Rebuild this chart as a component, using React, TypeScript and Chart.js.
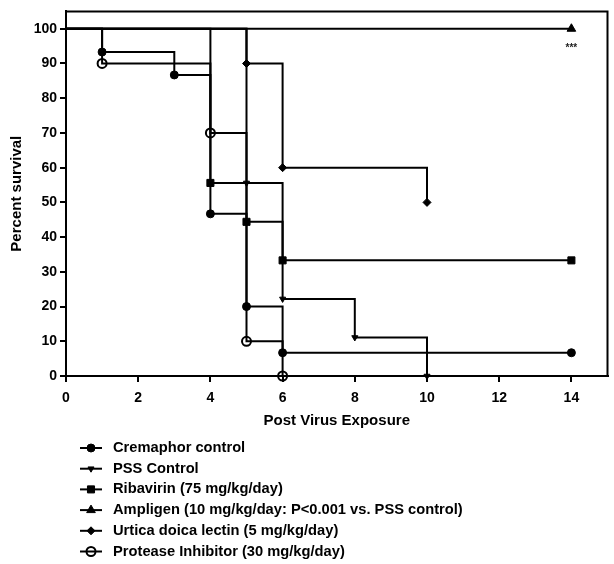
import React, { useEffect, useRef } from "react";
import { Chart, registerables } from "chart.js";

Chart.register(...registerables);

// ---- data ----
const SERIES_LABELS = [
  "Cremaphor control",
  "PSS Control",
  "Ribavirin (75 mg/kg/day)",
  "Ampligen (10 mg/kg/day: P<0.001 vs. PSS control)",
  "Urtica doica lectin (5 mg/kg/day)",
  "Protease Inhibitor (30 mg/kg/day)",
];

const CREMAPHOR_DAYS = [0, 1, 3, 4, 5, 6, 14];
const CREMAPHOR_SURV = [100, 93.3, 86.7, 46.7, 20, 6.7, 6.7];

const PSS_DAYS = [0, 5, 6, 8, 10];
const PSS_SURV = [100, 55.6, 22.2, 11.1, 0];

const RIBAVIRIN_DAYS = [0, 4, 5, 6, 14];
const RIBAVIRIN_SURV = [100, 55.6, 44.4, 33.3, 33.3];

const AMPLIGEN_DAYS = [0, 14];
const AMPLIGEN_SURV = [100, 100];

const URTICA_DAYS = [0, 5, 6, 10];
const URTICA_SURV = [100, 90, 60, 50];

const PROTEASE_DAYS = [0, 1, 4, 5, 6];
const PROTEASE_SURV = [100, 90, 70, 10, 0];

const X_TICKS = [0, 2, 4, 6, 8, 10, 12, 14];
const Y_TICKS = [0, 10, 20, 30, 40, 50, 60, 70, 80, 90, 100];

const ANNOTATION_X = 14;
const ANNOTATION_Y = 94.5;
const ANNOTATION_TEXT = "***";

const X_TITLE = "Post Virus Exposure";
const Y_TITLE = "Percent survival";

// ---- styles ----
const FONT = "'Liberation Sans', Arial, Helvetica, sans-serif";

type Marker = { style: string; rotation: number; radius: number; filled: boolean };
const MARKERS: Marker[] = [
  { style: "circle", rotation: 0, radius: 4, filled: true },
  { style: "triangle", rotation: 180, radius: 3.5, filled: true },
  { style: "rect", rotation: 0, radius: 5, filled: true },
  { style: "triangle", rotation: 0, radius: 5, filled: true },
  { style: "rectRot", rotation: 0, radius: 4, filled: true },
  { style: "circle", rotation: 0, radius: 4.5, filled: false },
];

function drawMarker(ctx: CanvasRenderingContext2D, m: Marker, x: number, y: number) {
  ctx.save();
  ctx.fillStyle = "#000";
  ctx.strokeStyle = "#000";
  ctx.lineWidth = m.filled ? 1 : 2;
  ctx.beginPath();
  const r = m.radius;
  if (m.style === "circle") {
    ctx.arc(x, y, r, 0, Math.PI * 2);
  } else if (m.style === "rect") {
    const s = r * Math.SQRT1_2;
    ctx.rect(x - s, y - s, 2 * s, 2 * s);
  } else if (m.style === "rectRot") {
    ctx.moveTo(x, y - r);
    ctx.lineTo(x + r, y);
    ctx.lineTo(x, y + r);
    ctx.lineTo(x - r, y);
    ctx.closePath();
  } else if (m.style === "triangle") {
    const rot = (m.rotation * Math.PI) / 180;
    for (let k = 0; k < 3; k++) {
      const a = rot + (k * 2 * Math.PI) / 3;
      const px = x + Math.sin(a) * r;
      const py = y - Math.cos(a) * r;
      if (k === 0) ctx.moveTo(px, py);
      else ctx.lineTo(px, py);
    }
    ctx.closePath();
  }
  if (m.filled) ctx.fill();
  ctx.stroke();
  ctx.restore();
}

const framePlugin = {
  id: "frame",
  afterDatasetsDraw(chart: any) {
    const { ctx, chartArea } = chart;
    ctx.save();
    ctx.strokeStyle = "#000";
    ctx.lineWidth = 2;
    ctx.beginPath();
    ctx.moveTo(chartArea.left, chartArea.top);
    ctx.lineTo(chartArea.right, chartArea.top);
    ctx.lineTo(chartArea.right, chartArea.bottom);
    ctx.stroke();
    // annotation
    const xs = chart.scales.x;
    const ys = chart.scales.y;
    ctx.fillStyle = "#222";
    ctx.font = `bold 10px ${FONT}`;
    ctx.textAlign = "center";
    ctx.textBaseline = "middle";
    ctx.fillText(ANNOTATION_TEXT, xs.getPixelForValue(ANNOTATION_X), ys.getPixelForValue(ANNOTATION_Y));
    ctx.restore();
  },
};

const legendPlugin = {
  id: "listLegend",
  afterDraw(chart: any) {
    const { ctx } = chart;
    ctx.save();
    ctx.font = `bold 14.7px ${FONT}`;
    ctx.fillStyle = "#000";
    ctx.textAlign = "left";
    ctx.textBaseline = "middle";
    SERIES_LABELS.forEach((label, i) => {
      const y = 448 + i * 20.7;
      ctx.strokeStyle = "#000";
      ctx.lineWidth = 2;
      ctx.beginPath();
      ctx.moveTo(80, y);
      ctx.lineTo(102, y);
      ctx.stroke();
      drawMarker(ctx, MARKERS[i], 91, y);
      ctx.fillStyle = "#000";
      ctx.fillText(label, 113, y);
    });
    ctx.restore();
  },
};

function toPoints(xs: number[], ys: number[]) {
  return xs.map((x, i) => ({ x, y: ys[i] }));
}

export default function App() {
  const ref = useRef<HTMLCanvasElement | null>(null);

  useEffect(() => {
    document.body.style.margin = "0";
    const canvas = ref.current;
    if (!canvas) return;
    const series = [
      toPoints(CREMAPHOR_DAYS, CREMAPHOR_SURV),
      toPoints(PSS_DAYS, PSS_SURV),
      toPoints(RIBAVIRIN_DAYS, RIBAVIRIN_SURV),
      toPoints(AMPLIGEN_DAYS, AMPLIGEN_SURV),
      toPoints(URTICA_DAYS, URTICA_SURV),
      toPoints(PROTEASE_DAYS, PROTEASE_SURV),
    ];
    const datasets = series.map((data, i) => {
      const m = MARKERS[i];
      return {
        label: SERIES_LABELS[i],
        data,
        stepped: true as const,
        borderColor: "#000",
        borderWidth: 2,
        backgroundColor: m.filled ? "#000" : "rgba(0,0,0,0)",
        pointStyle: m.style as any,
        pointRotation: m.rotation,
        pointRadius: (c: any) => (c.dataIndex === 0 ? 0 : m.radius),
        pointBorderWidth: m.filled ? 1 : 2,
        pointBorderColor: "#000",
        pointBackgroundColor: m.filled ? "#000" : "rgba(0,0,0,0)",
        fill: false,
        clip: false as any,
      };
    });

    const chart = new Chart(canvas, {
      type: "line",
      data: { datasets },
      plugins: [framePlugin, legendPlugin],
      options: {
        animation: false,
        responsive: false,
        layout: { padding: { top: 10, right: 1, left: 0, bottom: 134 } },
        plugins: { legend: { display: false }, tooltip: { enabled: false } },
        scales: {
          x: {
            type: "linear",
            min: 0,
            max: 15,
            afterFit: (s: any) => {
              s.height = 54;
            },
            afterBuildTicks: (s: any) => {
              s.ticks = X_TICKS.map((v) => ({ value: v }));
            },
            ticks: {
              color: "#000",
              font: { family: FONT, size: 14, weight: "bold" },
              padding: 8,
              maxRotation: 0,
            },
            grid: {
              drawOnChartArea: false,
              drawTicks: true,
              tickLength: 6,
              tickWidth: 2,
              tickColor: "#000",
              color: "#000",
              lineWidth: 2,
            },
            border: { color: "#000", width: 2 },
            title: {
              display: true,
              text: X_TITLE,
              color: "#000",
              font: { family: FONT, size: 15, weight: "bold" },
              padding: { top: 0, bottom: 0 },
            },
          },
          y: {
            type: "linear",
            min: 0,
            max: 105,
            afterFit: (s: any) => {
              s.width = 66;
            },
            afterBuildTicks: (s: any) => {
              s.ticks = Y_TICKS.map((v) => ({ value: v }));
            },
            ticks: {
              color: "#000",
              font: { family: FONT, size: 14, weight: "bold" },
              padding: 3,
            },
            grid: {
              drawOnChartArea: false,
              drawTicks: true,
              tickLength: 6,
              tickWidth: 2,
              tickColor: "#000",
              color: "#000",
              lineWidth: 2,
            },
            border: { color: "#000", width: 2 },
            title: {
              display: true,
              text: Y_TITLE,
              color: "#000",
              font: { family: FONT, size: 15, weight: "bold" },
              padding: { top: 8, bottom: 0 },
            },
          },
        },
      },
    });
    return () => chart.destroy();
  }, []);

  return (
    <div style={{ width: 614, height: 564, background: "#fff" }}>
      <canvas ref={ref} width={614} height={564} style={{ display: "block" }} />
    </div>
  );
}
